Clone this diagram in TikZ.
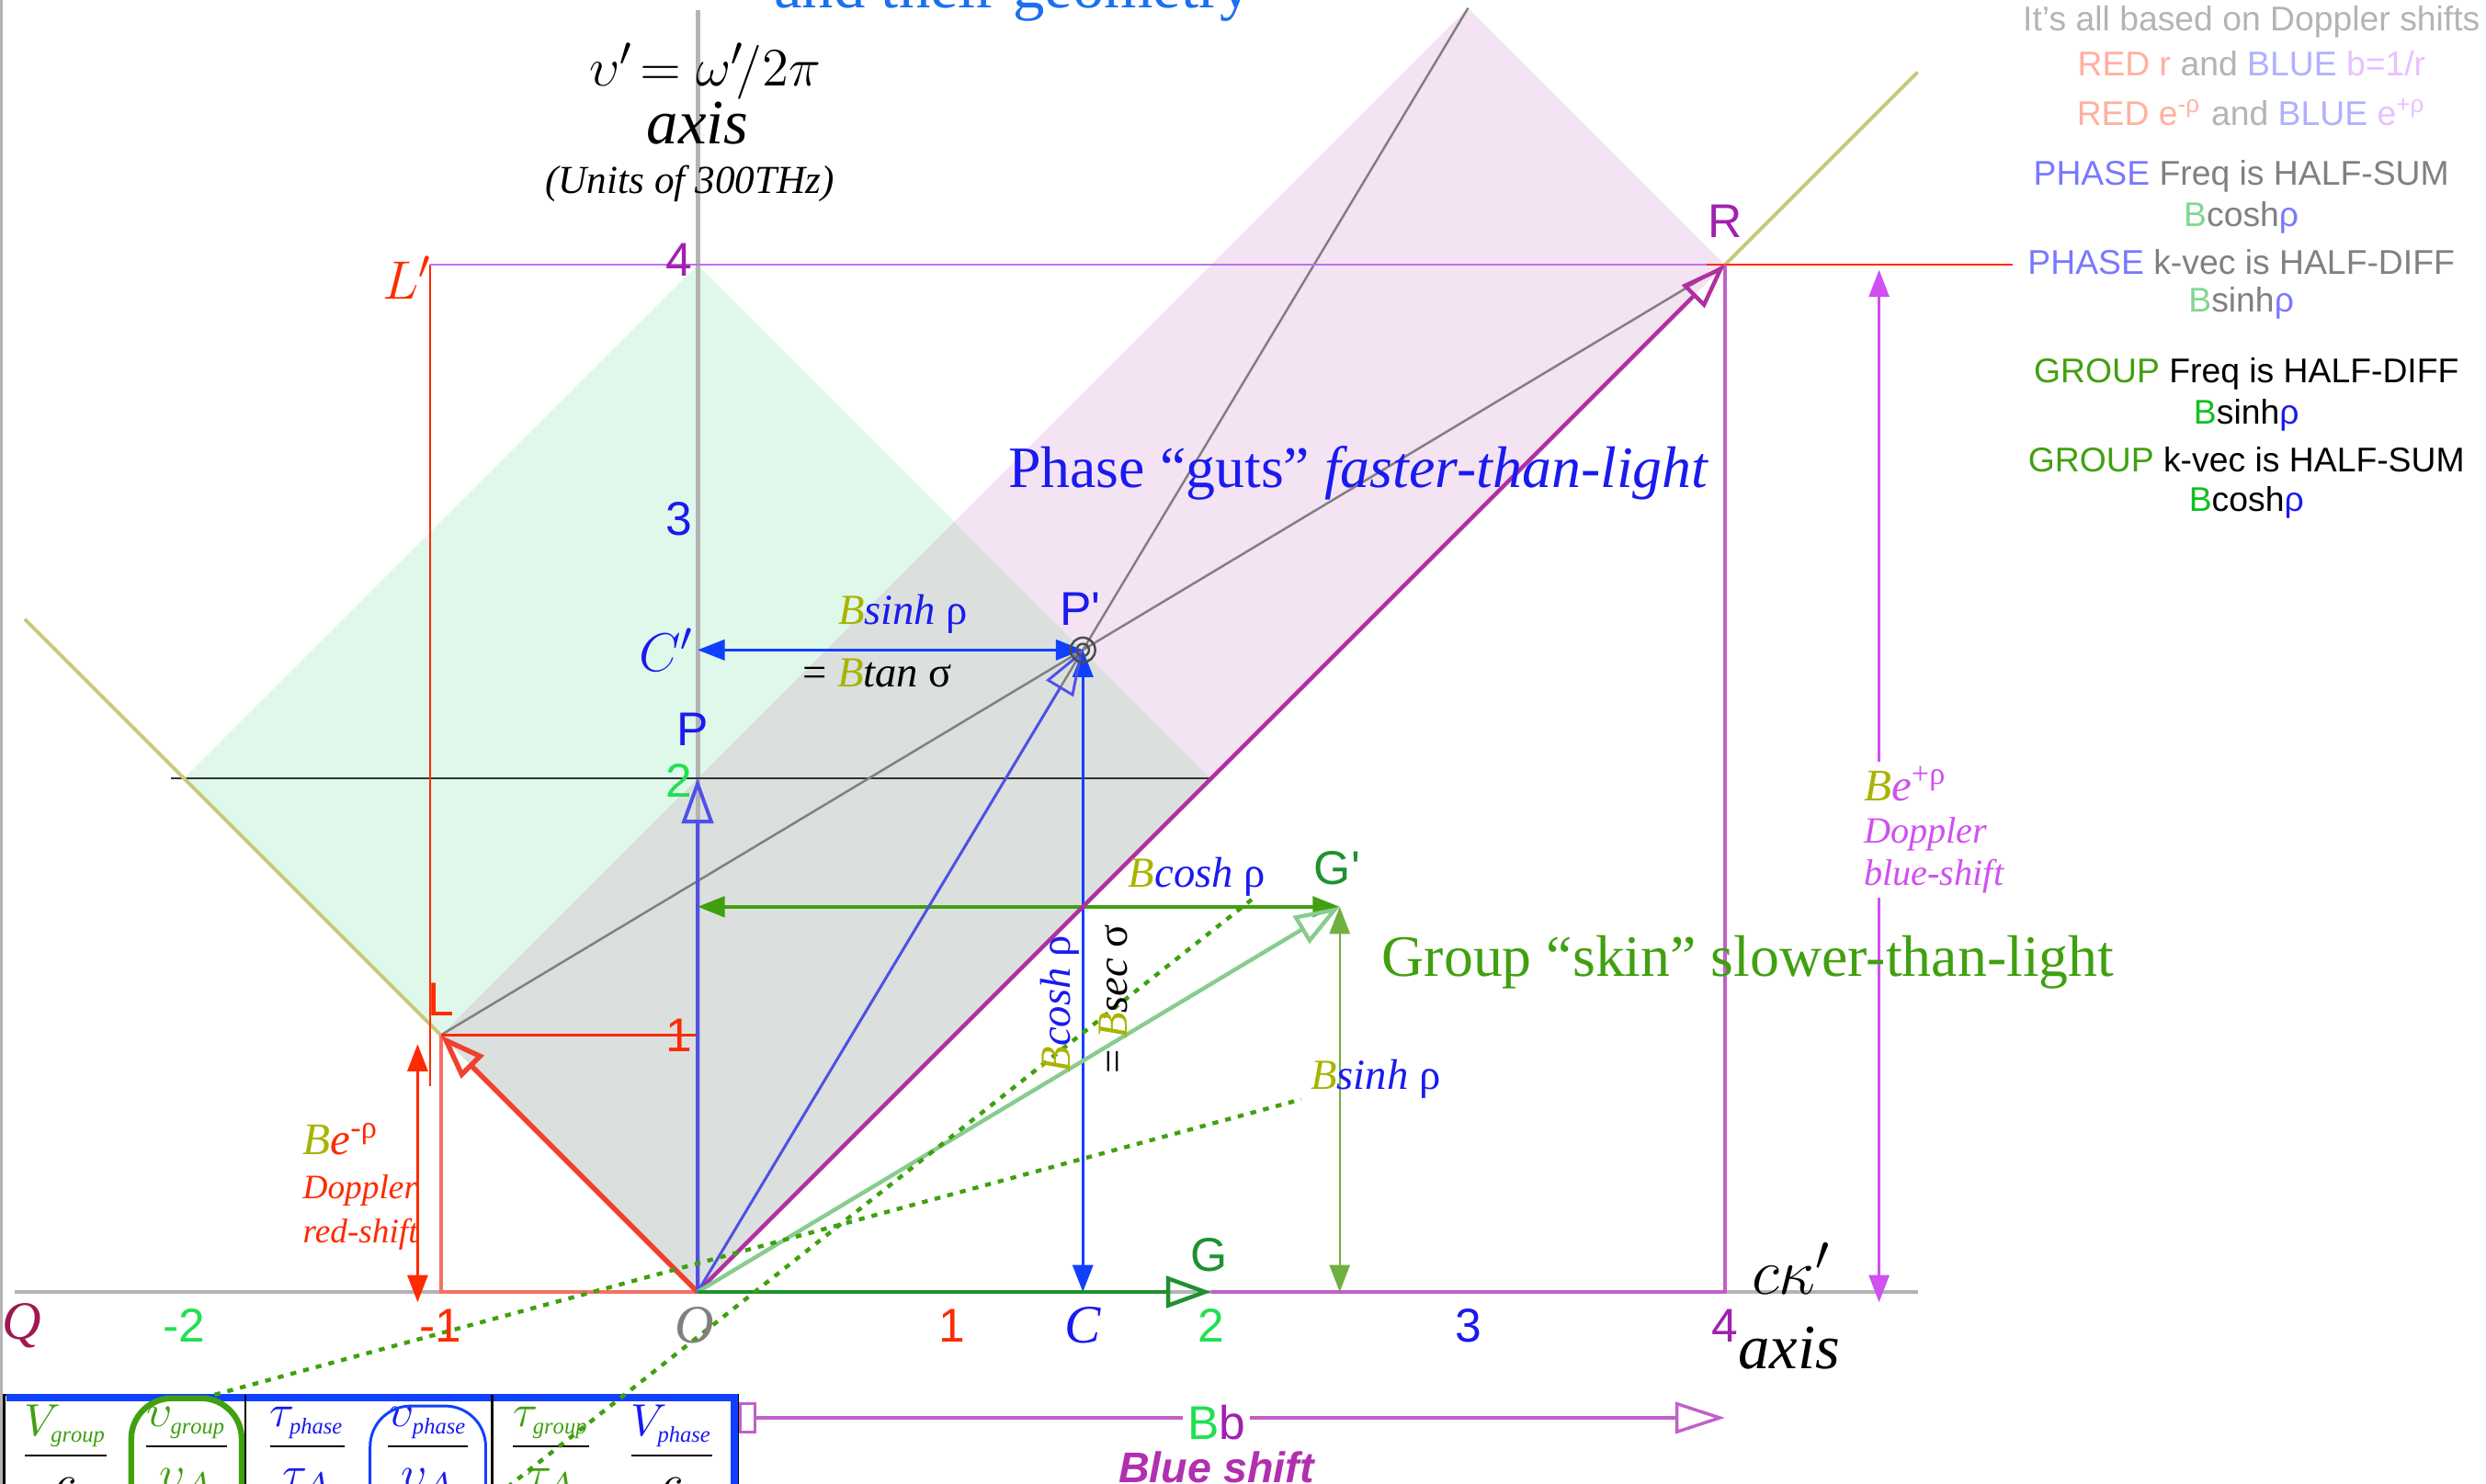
\documentclass[tikz,border=0pt]{standalone}
\usepackage{fontspec}
\setmainfont{Liberation Serif}
\setsansfont{Liberation Sans}
\usepackage{amsmath}
\usepackage{xcolor}
\usetikzlibrary{arrows.meta,positioning}

\definecolor{mintfill}{HTML}{DFF8EA}
\definecolor{grayfill}{HTML}{DBE0DF}
\definecolor{pinkfill}{HTML}{F4E3F3}
\definecolor{axisgray}{HTML}{B4B4B4}
\definecolor{olivecone}{HTML}{C8C878}
\definecolor{oliveB}{HTML}{A8B400}
\definecolor{redvec}{HTML}{F04030}
\definecolor{redtxt}{HTML}{FF2A00}
\definecolor{bluevec}{HTML}{5050E8}
\definecolor{bluedim}{HTML}{1040FF}
\definecolor{bluetxt}{HTML}{1A1AF0}
\definecolor{topblue}{HTML}{1A70F0}
\definecolor{magvec}{HTML}{B030A0}
\definecolor{magaxis}{HTML}{C060C8}
\definecolor{purpletxt}{HTML}{A020B0}
\definecolor{dopviolet}{HTML}{D050F0}
\definecolor{linviolet}{HTML}{C070F0}
\definecolor{greendark}{HTML}{209030}
\definecolor{greenbright}{HTML}{20E050}
\definecolor{greengrp}{HTML}{40A010}
\definecolor{greenB}{HTML}{10C020}
\definecolor{greenvec}{HTML}{88CC90}
\definecolor{greenthin}{HTML}{70B040}
\definecolor{qred}{HTML}{A01850}
\definecolor{palered}{HTML}{FFB0A0}
\definecolor{paleblue}{HTML}{B0B0FF}
\definecolor{paleviolet}{HTML}{E8C0FF}
\definecolor{lightgrey}{HTML}{B4B4B4}
\definecolor{midgrey}{HTML}{808080}
\definecolor{phaseblue}{HTML}{7878FF}
\definecolor{paleB}{HTML}{80D890}
\definecolor{bshift}{HTML}{B030B0}

\newcommand{\olB}{\textcolor{oliveB}{B}}
\newcommand{\subit}[1]{_{\scriptscriptstyle\mathit{#1}}}

\begin{document}
\begin{tikzpicture}[x=2cm, y=2cm, >={Triangle[length=6pt,width=4.5pt]}, every node/.style={inner sep=0pt},
  vecarrow/.style={-{Triangle[open,length=10pt,width=7pt]}},
  num/.style={font=\sffamily\fontsize{10.5}{12}\selectfont},
  note/.style={font=\sffamily\fontsize{7.6}{9}\selectfont},
  mlabel/.style={font=\fontsize{9.5}{11}\selectfont},
  bigital/.style={font=\fontsize{14}{16}\selectfont\itshape},
  headline/.style={font=\fontsize{13}{15}\selectfont},
  fracnode/.style={font=\fontsize{10}{12}\selectfont},
  dotlink/.style={draw=greengrp, line width=0.9pt, dash pattern=on 1.3pt off 1.6pt}]
\useasboundingbox (-2.716,-0.747) rectangle (6.963,5.031);

\coordinate (O) at (0,0);
\coordinate (L) at (-1,1);
\coordinate (R) at (4,4);
\coordinate (S) at (3,5);
\coordinate (Pp) at (1.5,2.5);
\coordinate (P) at (0,2);
\coordinate (Gp) at (2.5,1.5);
\coordinate (G) at (2,0);
\coordinate (C) at (1.5,0);
\coordinate (Cp) at (0,2.5);
\coordinate (Gy) at (0,1.5);
\coordinate (Gx) at (2.5,0);
\coordinate (Rx) at (4,0);
\coordinate (Lx) at (-1,0);
\coordinate (Ly) at (0,1);
\coordinate (T) at (1,3);
\coordinate (M) at (2,2);
\coordinate (K) at (-2,2);
\coordinate (Y4) at (0,4);
\coordinate (hl) at (-2.05,2);
\coordinate (frameB) at (-2.712,-0.747);
\coordinate (frameT) at (-2.712,5.031);
\coordinate (xaxL) at (-2.66,0);
\coordinate (xaxR) at (4.75,0);
\coordinate (yaxT) at (0,4.99);
\coordinate (coneL) at (-2.62,2.62);
\coordinate (coneR) at (4.75,4.75);
\coordinate (Lpt) at (-1.04,4);
\coordinate (Lpb) at (-1.04,0.8);
\coordinate (Rr1) at (3.93,4);
\coordinate (Rr2) at (5.12,4);
\coordinate (redT) at (-1.09,0.965);
\coordinate (redB) at (-1.09,-0.04);
\coordinate (bluT) at (4.6,3.98);
\coordinate (bluB) at (4.6,-0.04);
\coordinate (dA1) at (-1.88,-0.40);
\coordinate (dA2) at (2.35,0.75);
\coordinate (dB1) at (-0.74,-0.76);
\coordinate (dB2) at (2.16,1.53);
\coordinate (bbL) at (0.16,-0.49);
\coordinate (bbR) at (4.0,-0.49);
\coordinate (tabNW) at (-2.70,-0.40);
\coordinate (tabSE) at (0.155,-0.85);
\coordinate (tabA) at (-2.69,-0.412);
\coordinate (tabB) at (0.143,-0.412);
\coordinate (tabC) at (0.143,-0.85);
\coordinate (div1t) at (-1.76,-0.40);
\coordinate (div1b) at (-1.76,-0.85);
\coordinate (div2t) at (-0.80,-0.40);
\coordinate (div2b) at (-0.80,-0.85);

\fill[mintfill] (K) -- (Y4) -- (T) -- (L) -- cycle;
\fill[grayfill] (O) -- (L) -- (T) -- (M) -- cycle;
\fill[pinkfill] (T) -- (S) -- (R) -- (M) -- cycle;

\draw[axisgray, line width=0.8pt] (frameB) -- (frameT);
\draw[axisgray, line width=1pt] (xaxL) -- (xaxR);
\draw[axisgray, line width=1pt] (O) -- (yaxT);
\draw[black!80, line width=0.4pt] (hl) -- (M);
\draw[gray, line width=0.5pt] (L) -- (R);
\draw[gray, line width=0.5pt] (O) -- (S);
\draw[olivecone, line width=0.8pt] (coneL) -- (L);
\draw[olivecone, line width=0.8pt] (R) -- (coneR);

\draw[redvec!75, line width=0.8pt] (L) -- (Lx) -- (O);
\draw[redtxt, line width=0.5pt] (L) -- (Ly);
\draw[redtxt, line width=0.4pt] (Lpt) -- (Lpb);
\draw[linviolet, line width=0.5pt] (Lpt) -- (R);
\draw[redtxt, line width=0.5pt] (Rr1) -- (Rr2);
\draw[magaxis, line width=0.8pt] (G) -- (Rx) -- (R);

\draw[redtxt, line width=0.5pt, <->] (redT) -- (redB);
\draw[dopviolet, line width=0.5pt, <->] (bluT) -- (bluB);
\draw[greengrp, line width=0.9pt, <->] (Gy) -- (Gp);
\draw[greenthin, line width=0.5pt, <->] (Gp) -- (Gx);
\draw[bluedim, line width=0.7pt, <->] (Pp) -- (Cp);
\draw[bluedim, line width=0.7pt, <->] (Pp) -- (C);

\draw[redvec, line width=1.1pt, vecarrow] (O) -- (L);
\draw[magvec, line width=0.9pt, vecarrow] (O) -- (R);
\draw[bluevec, line width=0.8pt, vecarrow] (O) -- (P);
\draw[bluevec, line width=0.6pt, vecarrow] (O) -- (Pp);
\draw[greenvec, line width=0.9pt, vecarrow] (O) -- (Gp);
\draw[greendark, line width=0.9pt, vecarrow] (O) -- (G);
\draw[gray!60!black, line width=0.5pt] (Pp) circle[radius=0.048] (Pp) circle[radius=0.024];

\draw[magaxis, line width=0.7pt, {Square[open,length=4pt,width=7pt]}-{Triangle[open,length=11pt,width=7pt]}] (bbL) -- (bbR);
\node[font=\sffamily\fontsize{10.5}{12}\selectfont, fill=white, inner sep=1pt] (bb) at (2.02,-0.51) {\textcolor{greenbright}{B}\textcolor{purpletxt}{b}};
\node[font=\sffamily\bfseries\itshape\fontsize{9.5}{11}\selectfont, text=bshift, below=1pt of bb] (blueshiftx) {Blue shift};

\filldraw[fill=white, draw=black, line width=0.5pt] (tabNW) rectangle (tabSE);
\draw[bluedim, line width=1.6pt] (tabA) -- (tabB) -- (tabC);
\draw[black, line width=0.5pt] (div1t) -- (div1b);
\draw[black, line width=0.5pt] (div2t) -- (div2b);
\node[fracnode] (fVg) at (-2.46,-0.62) {$\dfrac{\textcolor{greengrp}{V\subit{group}}}{c}$};
\node[fracnode] (fvg) at (-1.99,-0.62) {$\dfrac{\textcolor{greengrp}{\upsilon\subit{group}}}{\textcolor{greengrp}{\upsilon_{A}}}$};
\node[fracnode] (ftp) at (-1.52,-0.62) {$\dfrac{\textcolor{bluetxt}{\tau\subit{phase}}}{\textcolor{bluetxt}{\tau_{A}}}$};
\node[fracnode] (fvp) at (-1.05,-0.62) {$\dfrac{\textcolor{bluetxt}{\upsilon\subit{phase}}}{\textcolor{bluetxt}{\upsilon_{A}}}$};
\node[fracnode] (ftg) at (-0.57,-0.62) {$\dfrac{\textcolor{greengrp}{\tau\subit{group}}}{\textcolor{greengrp}{\tau_{A}}}$};
\node[fracnode] (fVp) at (-0.10,-0.62) {$\dfrac{\textcolor{bluetxt}{V\subit{phase}}}{c}$};
\node[draw=greengrp, line width=1.3pt, rounded corners=9pt, minimum width=0.86cm, minimum height=1cm] (ringG) at (-1.99,-0.664) {};
\node[draw=bluedim, line width=0.6pt, rounded corners=9pt, minimum width=0.9cm, minimum height=1cm] (ringP) at (-1.05,-0.694) {};

\draw[dotlink] (dA1) -- (dA2);
\draw[dotlink] (dB1) -- (dB2);

\node[num, text=purpletxt] (t4y) at (-0.074,4.02) {4};
\node[num, text=bluetxt] (t3y) at (-0.074,3.01) {3};
\node[num, text=greenbright] (t2y) at (-0.074,1.99) {2};
\node[num, text=redtxt] (t1y) at (-0.074,1.0) {1};
\node[num, text=bluetxt] (Ptag) at (-0.02,2.19) {P};
\node[num, text=redtxt] (Ltag) at (-1.0,1.14) {L};
\node[num, text=purpletxt] (Rtag) at (4.0,4.17) {R};
\node[num, text=bluetxt] (Pptag) at (1.49,2.66) {P\textquotesingle};
\node[num, text=greendark] (Gptag) at (2.49,1.65) {G\textquotesingle};
\node[num, text=greendark] (Gtag) at (1.99,0.145) {G};

\node[font=\fontsize{12}{14}\selectfont\itshape, text=qred] (Qtag) at (-2.63,-0.13) {Q};
\node[num, text=greenbright] (tm2) at (-2,-0.13) {-2};
\node[num, text=redtxt] (tm1) at (-1,-0.13) {-1};
\node[font=\fontsize{12}{14}\selectfont\itshape, text=gray] (Otag) at (-0.01,-0.13) {O};
\node[num, text=redtxt] (tp1) at (0.99,-0.13) {1};
\node[font=\fontsize{12}{14}\selectfont\itshape, text=bluetxt] (Ctag) at (1.5,-0.13) {C};
\node[num, text=greenbright] (tp2) at (2,-0.13) {2};
\node[num, text=bluetxt] (tp3) at (3,-0.13) {3};
\node[num, text=purpletxt] (tp4) at (4,-0.13) {4};
\node[font=\fontsize{15}{16}\selectfont] (ck) at (4.26,0.09) {$c\kappa'$};
\node[bigital] (axisx) at (4.25,-0.22) {axis};

\node[font=\fontsize{13}{15}\selectfont] (nuax) at (0.03,4.753) {$\upsilon'\!=\omega'\!/2\pi$};
\node[bigital] (nuaxis) at (0,4.55) {axis};
\node[font=\fontsize{8.8}{10}\selectfont\itshape] (units) at (-0.03,4.315) {(Units of 300THz)};
\node[font=\fontsize{14}{16}\selectfont, text=topblue, anchor=base east] (title) at (2.16,5.0) {and their geometry};

\node[font=\fontsize{13}{15}\selectfont, text=redtxt] (Lptag) at (-1.13,3.95) {$L'$};
\node[font=\fontsize{13}{15}\selectfont, text=bluetxt] (Cptag) at (-0.12,2.5) {$C'$};

\node[mlabel] (sinhC) at (0.80,2.64) {\itshape\olB\textcolor{bluetxt}{sinh} \textcolor{bluetxt}{\upshape ρ}};
\node[mlabel] (tanC) at (0.70,2.41) {= \itshape\olB tan \upshape σ};
\node[mlabel] (coshG) at (1.944,1.617) {\itshape\olB\textcolor{bluetxt}{cosh} \textcolor{bluetxt}{\upshape ρ}};
\node[mlabel, rotate=90] (coshV) at (1.41,1.12) {\itshape\olB\textcolor{bluetxt}{cosh} \textcolor{bluetxt}{\upshape ρ}};
\node[mlabel, rotate=90] (secV) at (1.62,1.14) {= \itshape\olB sec \upshape σ};
\node[mlabel] (sinhG) at (2.64,0.83) {\itshape\olB\textcolor{bluetxt}{sinh} \textcolor{bluetxt}{\upshape ρ}};

\node[headline, text=bluetxt] (phase) at (2.574,3.19) {Phase “guts” \textit{faster-than-light}};
\node[headline, text=greengrp] (group) at (4.09,1.284) {Group “skin” slower-than-light};

\node[font=\fontsize{8.2}{9.4}\selectfont\itshape, text=dopviolet, align=left, fill=white, inner sep=1pt, anchor=west] (blueshift) at (4.52,1.80) {{\fontsize{10}{10}\selectfont\olB e\textsuperscript{\upshape +ρ}}\\Doppler\\blue-shift};
\node[font=\fontsize{7.6}{9.8}\selectfont\itshape, text=redtxt, align=left, anchor=west] (redshift) at (-1.54,0.41) {{\fontsize{10}{10}\selectfont\olB e\textsuperscript{\upshape -ρ}}\\Doppler\\red-shift};

\node[note, text=lightgrey] (nA) at (6.05,4.944) {It’s all based on Doppler shifts};
\node[note] (nB) at (6.05,4.784) {\textcolor{palered}{RED r} \textcolor{lightgrey}{and} \textcolor{paleblue}{BLUE} \textcolor{paleviolet}{b=1/r}};
\node[note] (nC) at (6.05,4.593) {\textcolor{palered}{RED e\textsuperscript{-ρ}} \textcolor{lightgrey}{and} \textcolor{paleblue}{BLUE} \textcolor{paleviolet}{e\textsuperscript{+ρ}}};
\node[note] (nD) at (6.01,4.346) {\textcolor{phaseblue}{PHASE} \textcolor{midgrey}{Freq is HALF-SUM}};
\node[note] (nE) at (6.01,4.185) {\textcolor{paleB}{B}\textcolor{midgrey}{cosh}\textcolor{phaseblue}{ρ}};
\node[note] (nF) at (6.01,4.012) {\textcolor{phaseblue}{PHASE} \textcolor{midgrey}{k-vec is HALF-DIFF}};
\node[note] (nG) at (6.01,3.852) {\textcolor{paleB}{B}\textcolor{midgrey}{sinh}\textcolor{phaseblue}{ρ}};
\node[note] (nH) at (6.03,3.574) {\textcolor{greengrp}{GROUP} Freq is HALF-DIFF};
\node[note] (nI) at (6.03,3.414) {\textcolor{greenB}{B}sinh\textcolor{bluetxt}{ρ}};
\node[note] (nJ) at (6.03,3.241) {\textcolor{greengrp}{GROUP} k-vec is HALF-SUM};
\node[note] (nK) at (6.03,3.074) {\textcolor{greenB}{B}cosh\textcolor{bluetxt}{ρ}};
\end{tikzpicture}
\end{document}
